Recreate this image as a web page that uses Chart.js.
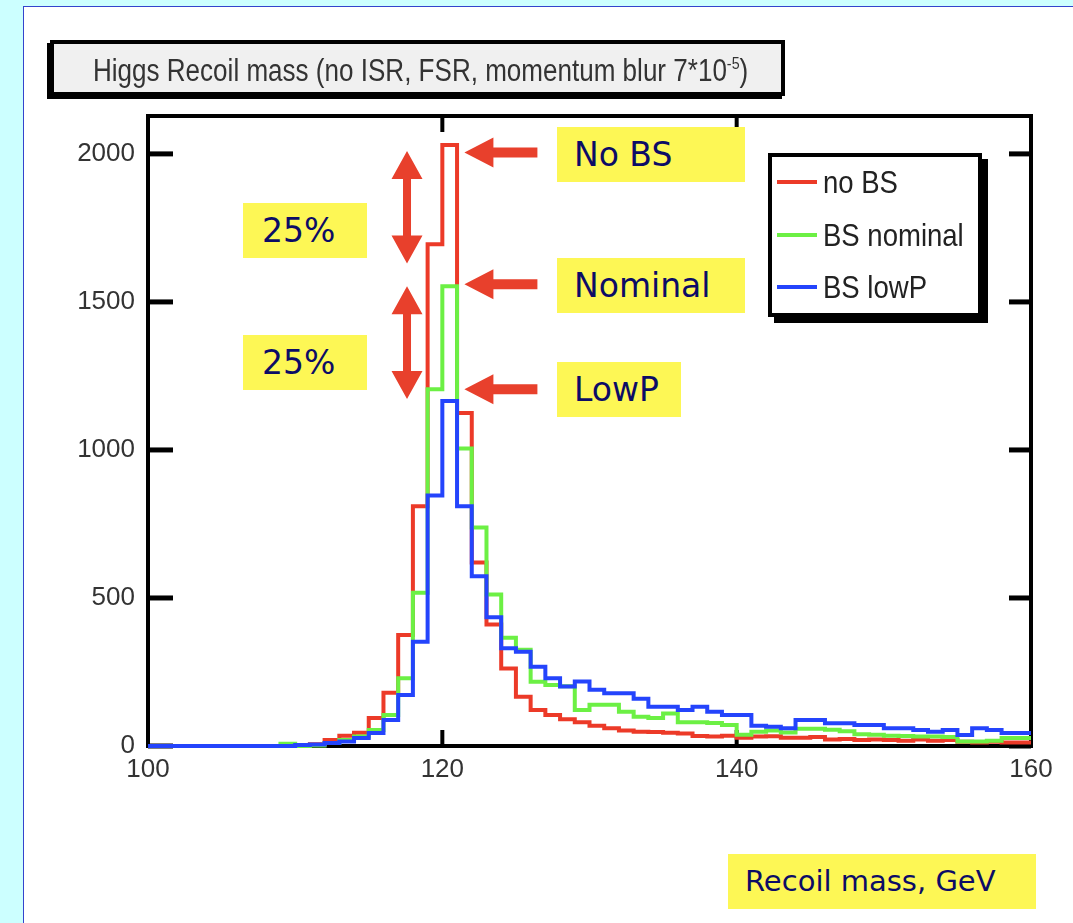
<!DOCTYPE html>
<html>
<head>
<meta charset="utf-8">
<title>Higgs Recoil mass</title>
<script src="https://cdn.jsdelivr.net/npm/chart.js@4.4.0/dist/chart.umd.min.js"></script>
<style>
    html, body { margin: 0; padding: 0; }
    body {
        width: 1073px; height: 923px; position: relative; overflow: hidden;
        background: #ccffff;
        font-family: 'Liberation Sans', Arial, sans-serif;
    }
    #panel {
        position: absolute; left: 23px; top: 6px; width: 1070px; height: 940px;
        background: #fff; border-left: 1px solid #3344cc; border-top: 1px solid #3344cc;
    }
    #chart { position: absolute; left: 0; top: 0; z-index: 1; }
    #title {
        position: absolute; left: 50px; top: 40px; width: 735px; height: 56px; z-index: 2;
        box-sizing: border-box; background: #f0f0f0; border: 4px solid #000;
        box-shadow: -3px 3px 0 #000;
    }
    #title span {
        position: absolute; left: 39px; top: 11px; font-size: 31px; line-height: 31px; color: #333;
        white-space: nowrap; transform: scaleX(0.84); transform-origin: 0 0;
    }
    #title sup { font-size: 17px; line-height: 0; vertical-align: 12px; }
    .note {
        position: absolute; z-index: 2; height: 55px; box-sizing: border-box;
        background: #fdf755; color: #0c0c66;
        font-family: 'DejaVu Sans', sans-serif; font-size: 33px; line-height: 55px; white-space: nowrap;
    }
    #legend {
        position: absolute; left: 768px; top: 153px; width: 214px; height: 164px; z-index: 2;
        box-sizing: border-box; background: #fff; border: 4px solid #000;
        box-shadow: 6px 6px 0 #000;
    }
    .row { position: absolute; left: 0; height: 34px; line-height: 34px; font-size: 32px; color: #222; white-space: nowrap; }
    .row i { position: absolute; left: 5px; top: 15px; width: 40px; height: 4px; }
    .row span { position: absolute; left: 51px; top: 0; transform: scaleX(0.86); transform-origin: 0 0; }
</style>
</head>
<body>
<div id="panel"></div>
<canvas id="chart" width="1073" height="923"></canvas>
<div id="title"><span>Higgs Recoil mass (no ISR, FSR, momentum blur 7*10<sup>-5</sup>)</span></div>
<div class="note" style="left:557px; top:127px; width:188px; padding-left:17px;">No BS</div>
<div class="note" style="left:557px; top:258px; width:188px; padding-left:17px;">Nominal</div>
<div class="note" style="left:557px; top:362px; width:124px; padding-left:17px;">LowP</div>
<div class="note" style="left:243px; top:203px; width:124px; padding-left:19px;">25%</div>
<div class="note" style="left:243px; top:335px; width:124px; padding-left:19px;">25%</div>
<div class="note" style="left:728px; top:854px; width:308px; padding-left:17px; font-size:29px;">Recoil mass, GeV</div>
<div id="legend"></div>
<script>
// bin edges, GeV (1 GeV bins)
const binEdges = [100, 101, 102, 103, 104, 105, 106, 107, 108, 109,
    110, 111, 112, 113, 114, 115, 116, 117, 118, 119,
    120, 121, 122, 123, 124, 125, 126, 127, 128, 129,
    130, 131, 132, 133, 134, 135, 136, 137, 138, 139,
    140, 141, 142, 143, 144, 145, 146, 147, 148, 149,
    150, 151, 152, 153, 154, 155, 156, 157, 158, 159, 160];

const noBS = [0, 0, 0, 0, 0, 0, 0, 0, 0, 0,
    2, 6, 20, 35, 45, 95, 180, 375, 810, 1695,
    2030, 1125, 620, 410, 262, 166, 122, 105, 90, 80,
    68, 60, 52, 48, 47, 45, 42, 34, 32, 35,
    28, 32, 33, 28, 28, 30, 22, 24, 20, 22,
    20, 18, 22, 18, 20, 14, 12, 14, 12, 12];

const bsNominal = [0, 0, 0, 0, 0, 0, 0, 0, 0, 8,
    0, 2, 10, 20, 32, 54, 105, 229, 518, 1205,
    1553, 1005, 738, 512, 366, 325, 217, 206, 202, 122,
    139, 139, 116, 99, 95, 110, 80, 80, 78, 71,
    38, 48, 52, 46, 58, 58, 55, 50, 40, 38,
    35, 34, 32, 32, 30, 15, 15, 18, 27, 27];

const bsLowP = [0, 0, 0, 0, 0, 0, 0, 0, 0, 0,
    3, 5, 10, 15, 27, 44, 88, 172, 352, 846,
    1165, 810, 573, 435, 330, 318, 268, 229, 201, 218,
    190, 178, 178, 160, 133, 133, 122, 133, 116, 105,
    105, 68, 65, 60, 88, 88, 77, 77, 71, 71,
    60, 60, 54, 48, 54, 37, 60, 54, 44, 44];

const seriesLabels = ['no BS', 'BS nominal', 'BS lowP'];
const seriesColors = ['#ec3a28', '#6cf044', '#2444fc'];
const xTicks = [100, 120, 140, 160];
const yTicks = [0, 500, 1000, 1500, 2000];

// annotation arrows, in axis units
const arrowColor = '#e8402c';
const peakArrowX = 121.5;
const peakArrowLevels = [2005, 1560, 1205];
const gapArrowX = 117.6;
const gapArrowSpans = [[2010, 1630], [1553, 1172]];

const tickFont = { family: "'Liberation Sans', Arial, sans-serif", size: 26 };

function histPoints(values) {
    return binEdges.map((e, i) => ({ x: e, y: values[Math.min(i, values.length - 1)] }));
}

function line(ctx, x1, y1, x2, y2) {
    ctx.beginPath();
    ctx.moveTo(x1, y1);
    ctx.lineTo(x2, y2);
    ctx.stroke();
}

const framePlugin = {
    id: 'frame',
    beforeDatasetsDraw(chart) {
        const { ctx, chartArea: a, scales: { x, y } } = chart;
        ctx.save();
        ctx.strokeStyle = '#000';
        ctx.lineWidth = 4;
        ctx.strokeRect(a.left, a.top, a.right - a.left, a.bottom - a.top);
        x.ticks.forEach(t => {
            const px = x.getPixelForValue(t.value);
            line(ctx, px, a.bottom, px, a.bottom - 16);
            line(ctx, px, a.top, px, a.top + 16);
        });
        ctx.lineWidth = 5;
        y.ticks.forEach(t => {
            const py = y.getPixelForValue(t.value);
            line(ctx, a.left, py, a.left + 25, py);
            line(ctx, a.right, py, a.right - 22, py);
        });
        ctx.restore();
    }
};

function hArrow(ctx, tx, ty) {
    const head = 29, half = 15, shaft = 5, len = 73;
    ctx.beginPath();
    ctx.moveTo(tx, ty);
    ctx.lineTo(tx + head, ty - half);
    ctx.lineTo(tx + head, ty - shaft);
    ctx.lineTo(tx + len, ty - shaft);
    ctx.lineTo(tx + len, ty + shaft);
    ctx.lineTo(tx + head, ty + shaft);
    ctx.lineTo(tx + head, ty + half);
    ctx.closePath();
    ctx.fill();
}

function vArrow(ctx, cx, top, bottom) {
    const head = 28, half = 15.5, shaft = 4;
    ctx.beginPath();
    ctx.moveTo(cx, top);
    ctx.lineTo(cx + half, top + head);
    ctx.lineTo(cx + shaft, top + head);
    ctx.lineTo(cx + shaft, bottom - head);
    ctx.lineTo(cx + half, bottom - head);
    ctx.lineTo(cx, bottom);
    ctx.lineTo(cx - half, bottom - head);
    ctx.lineTo(cx - shaft, bottom - head);
    ctx.lineTo(cx - shaft, top + head);
    ctx.lineTo(cx - half, top + head);
    ctx.closePath();
    ctx.fill();
}

const arrowPlugin = {
    id: 'arrows',
    afterDatasetsDraw(chart) {
        const { ctx, scales: { x, y } } = chart;
        ctx.save();
        ctx.fillStyle = arrowColor;
        peakArrowLevels.forEach(v => hArrow(ctx, x.getPixelForValue(peakArrowX), y.getPixelForValue(v)));
        gapArrowSpans.forEach(s => vArrow(ctx, x.getPixelForValue(gapArrowX), y.getPixelForValue(s[0]), y.getPixelForValue(s[1])));
        ctx.restore();
    }
};

const allSeries = [noBS, bsNominal, bsLowP];

new Chart(document.getElementById('chart').getContext('2d'), {
    type: 'line',
    data: {
        datasets: allSeries.map((vals, i) => ({
            label: seriesLabels[i],
            data: histPoints(vals),
            borderColor: seriesColors[i],
            borderWidth: 4,
            pointRadius: 0,
            stepped: 'before',
            fill: false,
            clip: 6,
            order: 3 - i
        }))
    },
    options: {
        responsive: false,
        animation: false,
        events: [],
        layout: { padding: { left: 0, top: 116, right: 42, bottom: 0 } },
        plugins: { legend: { display: false }, tooltip: { enabled: false } },
        scales: {
            x: {
                type: 'linear', min: 100, max: 160,
                afterBuildTicks: s => { s.ticks = xTicks.map(v => ({ value: v })); },
                afterFit: s => { s.height = 177; },
                grid: { display: false, drawTicks: false },
                border: { display: false },
                ticks: { font: tickFont, color: '#333', padding: 8, maxRotation: 0, autoSkip: false,
                    callback: v => String(v) }
            },
            y: {
                type: 'linear', min: 0, max: 2128,
                afterBuildTicks: s => { s.ticks = yTicks.map(v => ({ value: v })); },
                afterFit: s => { s.width = 148; },
                grid: { display: false, drawTicks: false },
                border: { display: false },
                ticks: { font: tickFont, color: '#333', padding: 13, autoSkip: false,
                    callback: v => String(v) }
            }
        }
    },
    plugins: [framePlugin, arrowPlugin]
});

// legend box, drawn as html
const legend = document.getElementById('legend');
seriesLabels.forEach((lab, i) => {
    const row = document.createElement('div');
    row.className = 'row';
    row.style.top = (8 + i * 52.5) + 'px';
    row.innerHTML = '<i style="background:' + seriesColors[i] + '"></i><span>' + lab + '</span>';
    legend.appendChild(row);
});
</script>
</body>
</html>
